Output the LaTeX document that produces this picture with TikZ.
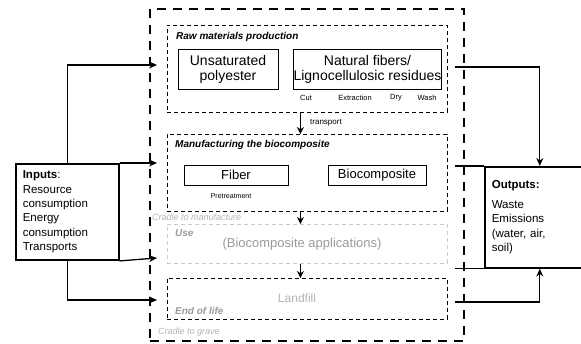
\documentclass[tikz,border=0pt]{standalone}
\usepackage{fontspec}
\setmainfont{Liberation Sans}
\usetikzlibrary{arrows.meta,positioning}
\definecolor{softgray}{HTML}{9A9A9A}
\definecolor{palegray}{HTML}{B4B4B4}
\begin{document}
\begin{tikzpicture}[x=1pt,y=-1pt,
    stage/.style={draw, dash pattern=on 4pt off 3pt, line width=0.9pt, minimum width=280pt, inner sep=0pt, anchor=north west},
    item/.style={draw, line width=1pt, align=center, inner sep=0pt},
    flow/.style={line width=1.3pt, -{Stealth[length=8pt,width=7pt]}},
    title/.style={anchor=west, font=\fontsize{10}{12}\selectfont\bfseries\itshape, inner sep=0pt},
    small/.style={font=\fontsize{7.5}{9}\selectfont, inner sep=0pt},
    io/.style={draw, line width=1.6pt, anchor=north west, align=left, inner sep=7pt, font=\fontsize{11.5}{14.4}\selectfont}]
    \clip (0,0) rectangle (581,343);
    \node[draw, line width=1.6pt, dash pattern=on 9pt off 7pt, anchor=north west, minimum width=314pt, minimum height=332pt, inner sep=0pt] (outer) at (149,8) {};
    \node[stage, minimum height=87pt] (raw) at (167,25) {};
    \node[stage, minimum height=77pt] (manu) at (167,134) {};
    \node[stage, draw=palegray!70, minimum height=39pt] (use) at (167,224) {};
    \node[stage, minimum height=41pt] (eol) at (167,278) {};
    \node[title] (rawlabel) at (176,37) {Raw materials production};
    \node[title] (manulabel) at (175,145) {Manufacturing the biocomposite};
    \node[title, text=softgray] (uselabel) at (175,233) {Use};
    \node[title, text=softgray] (eollabel) at (175,311) {End of life};
    \node[item, minimum width=100pt, minimum height=40pt, font=\fontsize{14}{15}\selectfont] (poly) at (228,69) {Unsaturated\\polyester};
    \node[item, minimum width=145pt, minimum height=40pt, font=\fontsize{14}{15}\selectfont] (natural) at (367.5,69) {Natural fibers/\\Lignocellulosic residues};
    \node[small] (cut) at (306,98) {Cut};
    \node[small] (extraction) at (355,98) {Extraction};
    \node[small] (dry) at (396,98) {Dry};
    \node[small] (wash) at (427,98) {Wash};
    \node[item, minimum width=104pt, minimum height=20pt, font=\fontsize{13}{15}\selectfont] (fiber) at (236,175) {Fiber};
    \node[item, minimum width=98pt, minimum height=20pt, font=\fontsize{13}{15}\selectfont] (bio) at (377,175) {Biocomposite};
    \node[small, font=\fontsize{7}{9}\selectfont] (pretreat) at (231,196) {Pretreatment};
    \node[anchor=west, inner sep=0pt, text=palegray, font=\fontsize{9}{11}\selectfont\itshape] (cradlemanu) at (152,217) {Cradle to manufacture};
    \node[anchor=west, inner sep=0pt, text=palegray, font=\fontsize{9}{11}\selectfont\itshape] (cradlegrave) at (158,332) {Cradle to grave};
    \node[text=softgray, inner sep=0pt, font=\fontsize{13}{15}\selectfont] (apps) at (302,244) {(Biocomposite applications)};
    \node[text=palegray, inner sep=0pt, font=\fontsize{12}{14}\selectfont] (landfill) at (297,298) {Landfill};
    \draw[flow, -{Stealth[length=7pt,width=7pt]}] ([xshift=-7pt]raw.south) -- ([xshift=-7pt]manu.north);
    \node[small, anchor=west, font=\fontsize{8}{9}\selectfont] (transport) at (310,123) {transport};
    \draw[flow, -{Stealth[length=7pt,width=7pt]}] ([xshift=-7pt]manu.south) -- ([xshift=-7pt]use.north);
    \draw[flow, -{Stealth[length=7pt,width=7pt]}] ([xshift=-7pt]use.south) -- ([xshift=-7pt]eol.north);
    \node[io, text width=89pt, minimum height=95pt] (inputs) at (15,163) {\textbf{Inputs}:\\Resource\\consumption\\Energy\\consumption\\Transports};
    \node[io, text width=96pt, minimum height=101pt] (outputs) at (484,166) {\textbf{Outputs:}\\[5pt]Waste\\Emissions\\(water, air,\\soil)};
    \coordinate (in1) at (157,65);
    \coordinate (in2) at (157,163);
    \coordinate (in3) at (157,258);
    \coordinate (in4) at (157,300);
    \draw[flow] (inputs.north) |- (in1);
    \draw[flow] (inputs.north east) -- (in2);
    \draw[flow] (inputs.south east) -- (in3);
    \draw[flow] (inputs.south) |- (in4);
    \coordinate (out1) at (455,67);
    \coordinate (out2) at (455,302);
    \draw[flow] (out1) -| (outputs.north);
    \draw[flow] (out2) -| (outputs.south);
    \draw[line width=1.6pt] (outputs.north west) -- ++(-29,0);
    \draw[line width=1.6pt] (outputs.south west) -- ++(-29,0);
\end{tikzpicture}
\end{document}
